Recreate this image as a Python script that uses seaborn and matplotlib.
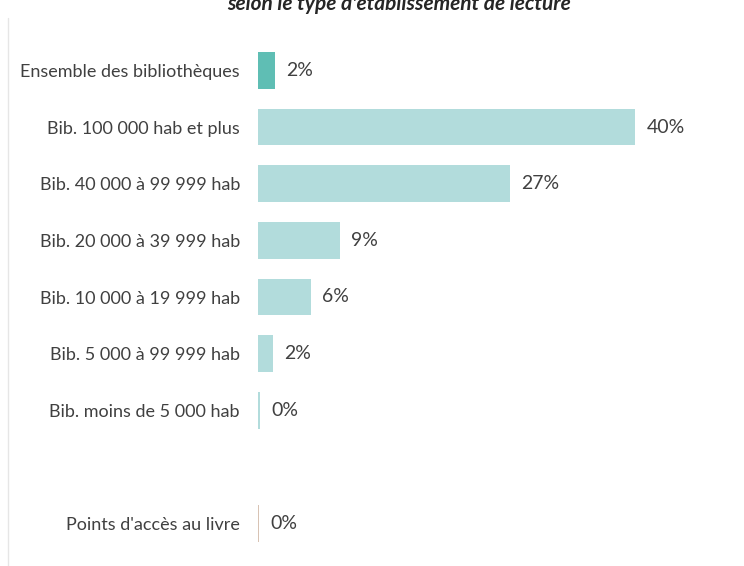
import matplotlib
matplotlib.use('Agg')

import pandas as pd
import numpy as np
import matplotlib.pyplot as plt
import seaborn as sns

# --- data ---
categories = [
    "Ensemble des bibliothèques",
    "Bib. 100 000 hab et plus",
    "Bib. 40 000 à 99 999 hab",
    "Bib. 20 000 à 39 999 hab",
    "Bib. 10 000 à 19 999 hab",
    "Bib. 5 000 à 99 999 hab",
    "Bib. moins de 5 000 hab",
    " ",
    "Points d'accès au livre",
]
values = [1.8, 40.0, 26.7, 8.7, 5.6, 1.6, 0.25, np.nan, 0.15]
labels = ["2%", "40%", "27%", "9%", "6%", "2%", "0%", "", "0%"]
bar_colors = ["#5fbeb4", "#b2dcdc", "#b2dcdc", "#b2dcdc", "#b2dcdc",
              "#b2dcdc", "#b2dcdc", "#ffffff", "#d8c3b4"]

df = pd.DataFrame({"cat": categories, "val": values})

sns.set_style("white")
plt.rcParams['font.family'] = ['Lato', 'DejaVu Sans']

fig = plt.figure(figsize=(7.44, 5.66), dpi=100)
ax = fig.add_axes([258 / 744, 1 - 552 / 566, 434 / 744, 510 / 566])

sns.barplot(data=df, x="val", y="cat", hue="cat", order=categories,
            palette=dict(zip(categories, bar_colors)), legend=False,
            width=0.65, ax=ax, saturation=1, linewidth=0)

for i, (v, lab) in enumerate(zip(values, labels)):
    if lab:
        ax.text(v + 1.2, i, lab, va='center', ha='left',
                fontsize=14, color='#404040')

ax.set_xlim(0, 46)
ax.set_ylim(8.5, -0.5)
ax.set_xlabel("")
ax.set_ylabel("")
ax.set_xticks([])
ax.tick_params(axis='y', length=0, pad=13, labelsize=13, labelcolor='#404040')
sns.despine(ax=ax, left=True, bottom=True)

fig.text(0.537, 1 - 10 / 566, "selon le type d'établissement de lecture",
         ha='center', va='baseline', fontsize=15,
         fontweight='bold', fontstyle='italic', color='#262626')

# faint chart border on the left
fig.add_artist(plt.Line2D([7.5 / 744, 7.5 / 744], [0, 1 - 18 / 566],
                          color='#e6e6e6', lw=1))

fig.savefig("out.png", dpi=100)
